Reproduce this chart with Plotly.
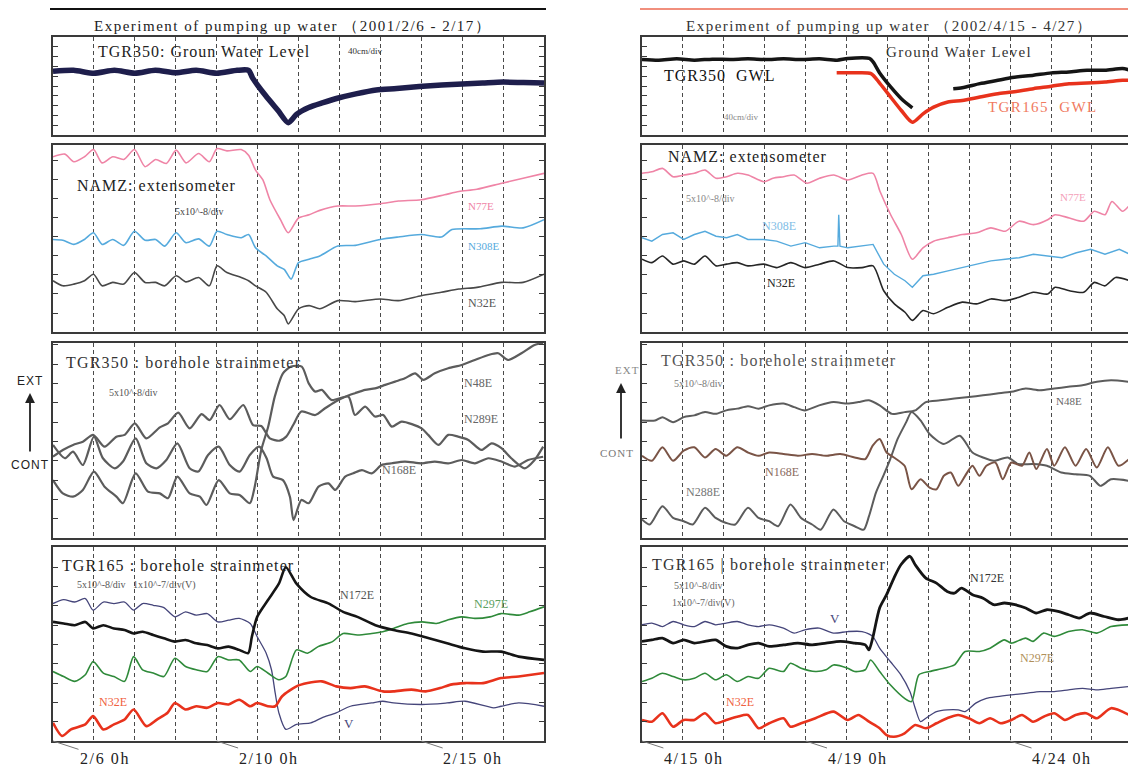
import plotly.graph_objects as go

# ---------------- DATA (time in days since start; values in chart divisions) ----------------
# Left column : 2001/2/6 0h .. ; Right column : 2002/4/15 0h ..
DAY_TICKS = list(range(1, 12))

# Left panel 1 : TGR350 ground water level
L_gwl_t = [0, 0.5, 1.0, 1.5, 2.0, 2.5, 3.0, 3.5, 4.0, 4.5, 4.78, 4.88, 5.2, 5.5, 5.75, 5.95, 6.25, 6.6,
           6.95, 7.4, 7.9, 8.4, 8.95, 9.5, 10.0, 10.5, 11.0, 11.5, 12.0]
L_gwl_v = [6.5, 6.6, 6.3, 6.6, 6.3, 6.6, 6.35, 6.6, 6.3, 6.6, 6.6, 5.8, 4.0, 2.5, 1.25, 2.1, 2.8, 3.3,
           3.75, 4.2, 4.6, 4.75, 4.95, 5.1, 5.2, 5.3, 5.4, 5.35, 5.3]

# Left panel 2 : NAMZ extensometer
L_n77_t = [0, .29, .51, .77, .99, 1.2, 1.46, 1.73, 1.99, 2.25, 2.51, 2.77, 3.01, 3.25, 3.56, 3.82, 4.01, 4.25,
           4.6, 4.78, 4.95, 5.13, 5.3, 5.56, 5.75, 6.0, 6.26, 6.52, 6.96, 7.39, 8.0, 8.44, 9.0, 9.57, 9.92,
           10.36, 10.97, 11.49, 12.0]
L_n77_v = [9.22, 9.36, 8.96, 9.22, 9.6, 8.9, 9.22, 9.08, 9.6, 8.7, 9.08, 8.87, 9.57, 8.9, 9.39, 8.96, 9.65, 9.53,
           9.6, 9.3, 8.52, 8.0, 6.96, 5.91, 5.22, 6.0, 6.17, 6.4, 6.63, 6.63, 6.75, 6.89, 6.96, 7.22, 7.39,
           7.51, 7.83, 8.09, 8.35]
L_n308_t = [0, .24, .51, .77, .99, 1.2, 1.46, 1.73, 1.99, 2.25, 2.51, 2.73, 3.01, 3.25, 3.56, 3.82, 4.01, 4.25,
            4.6, 4.78, 4.95, 5.21, 5.48, 5.65, 5.82, 6.0, 6.26, 6.52, 6.96, 7.39, 8.0, 8.44, 9.0, 9.49, 9.75,
            10.44, 10.97, 11.49, 12.0]
L_n308_v = [4.87, 4.83, 4.61, 4.87, 5.22, 4.61, 4.87, 4.56, 5.3, 4.83, 4.87, 4.52, 5.22, 4.7, 4.9, 4.52, 5.3, 5.13,
            4.96, 5.13, 4.43, 4.0, 3.48, 3.3, 2.78, 3.65, 3.83, 4.0, 4.52, 4.56, 4.87, 5.0, 5.13, 5.0, 5.39,
            5.43, 5.57, 5.48, 5.91]
L_n32x_t = [0, .24, .51, .77, .99, 1.2, 1.46, 1.73, 1.99, 2.25, 2.51, 2.73, 3.01, 3.25, 3.56, 3.82, 4.01, 4.25,
            4.6, 4.78, 4.95, 5.21, 5.48, 5.65, 5.75, 6.0, 6.26, 6.52, 6.96, 7.39, 8.0, 8.44, 9.0, 9.49, 9.92,
            10.36, 10.97, 11.49, 12.0]
L_n32x_v = [2.7, 2.43, 2.52, 2.7, 3.04, 2.43, 2.61, 2.52, 3.13, 2.61, 2.61, 2.43, 2.96, 2.64, 2.87, 2.43, 3.48, 3.13,
            2.87, 2.7, 2.43, 2.09, 1.22, 0.87, 0.43, 1.22, 1.39, 1.22, 1.65, 1.6, 1.74, 1.65, 1.91, 2.09, 2.26,
            2.35, 2.61, 2.61, 3.04]

# Left panel 3 : TGR350 borehole strainmeter
L_n48_t = [0, .24, .49, .73, .98, 1.26, 1.55, 1.75, 2.0, 2.28, 2.61, 2.81, 3.06, 3.34, 3.63, 3.83, 4.07, 4.32,
           4.65, 4.89, 5.09, 5.3, 5.54, 5.7, 5.87, 6.07, 6.41, 6.65, 6.9, 7.14, 7.38, 7.63, 7.87, 8.12, 8.36,
           8.6, 8.85, 9.05, 9.33, 9.66, 9.99, 10.31, 10.64, 10.88, 11.12, 11.45, 11.77, 11.98]
L_n48_v = [4.21, 4.56, 4.82, 4.99, 5.34, 4.73, 5.25, 5.34, 5.94, 5.16, 5.73, 5.94, 6.49, 5.68, 6.42, 6.11, 6.89, 6.15,
           6.89, 5.85, 5.8, 5.16, 5.04, 5.25, 5.85, 6.55, 6.37, 6.72, 7.06, 7.32, 7.5, 7.67, 7.75, 7.93, 8.1,
           8.27, 8.53, 8.19, 8.53, 8.79, 8.96, 9.22, 9.48, 9.57, 9.22, 9.57, 10.0, 10.09]
L_n168_t = [0, .29, .49, .73, 1.0, 1.22, 1.51, 1.71, 2.02, 2.28, 2.53, 2.77, 3.04, 3.34, 3.55, 3.79, 4.05, 4.32,
            4.56, 4.81, 5.04, 5.22, 5.38, 5.62, 5.79, 5.88, 6.07, 6.25, 6.49, 6.73, 6.9, 7.14, 7.34, 7.55, 7.79,
            8.03, 8.28, 8.6, 9.01, 9.33, 9.66, 9.99, 10.31, 10.64, 10.96, 11.29, 11.61, 11.98]
L_n168_v = [4.82, 4.13, 4.47, 3.78, 5.25, 4.13, 3.61, 3.96, 5.16, 3.87, 3.61, 4.04, 4.9, 3.61, 3.44, 4.3, 4.73, 3.78,
            3.44, 4.3, 4.73, 4.13, 3.18, 3.0, 2.14, 0.93, 1.97, 1.8, 2.66, 2.83, 2.49, 3.18, 3.35, 3.52, 3.35,
            3.78, 3.87, 3.96, 3.87, 3.96, 3.87, 4.04, 3.87, 4.13, 3.96, 3.7, 4.04, 4.21]
L_n289_t = [0, .24, .49, .73, 1.0, 1.26, 1.55, 1.71, 2.02, 2.32, 2.61, 2.81, 3.04, 3.34, 3.59, 3.75, 4.05, 4.32,
            4.56, 4.81, 4.93, 5.09, 5.26, 5.42, 5.62, 5.82, 6.08, 6.25, 6.41, 6.57, 6.81, 7.22, 7.38, 7.63, 7.87,
            8.07, 8.28, 8.52, 9.01, 9.17, 9.42, 9.66, 9.9, 10.15, 10.47, 10.72, 10.96, 11.2, 11.53, 11.77, 11.98]
L_n289_v = [3.0, 2.31, 2.14, 2.49, 3.44, 2.66, 2.14, 1.8, 3.35, 2.4, 2.31, 2.06, 3.18, 2.31, 2.14, 1.71, 3.0, 2.31,
            2.23, 1.8, 2.66, 4.56, 5.77, 7.32, 8.53, 8.88, 8.88, 8.01, 7.58, 7.67, 7.15, 7.32, 6.37, 6.8, 6.29,
            6.37, 5.77, 6.03, 5.68, 5.34, 4.82, 5.34, 5.25, 5.08, 4.56, 4.9, 4.65, 4.13, 3.61, 4.04, 4.73]

# Left panel 4 : TGR165 borehole strainmeter
L_v_t = [0, .26, .53, .79, .98, 1.23, 1.49, 1.75, 1.97, 2.19, 2.45, 2.71, 2.98, 3.24, 3.5, 3.77, 4.03, 4.29, 4.55,
         4.82, 4.99, 5.21, 5.34, 5.43, 5.52, 5.69, 5.95, 6.3, 6.57, 6.92, 7.27, 7.79, 8.06, 8.32, 9.02, 9.63,
         10.07, 10.77, 10.95, 11.38, 12.0]
L_v_v = [7.12, 7.32, 7.2, 7.38, 6.78, 7.2, 7.12, 7.2, 6.78, 7.12, 7.03, 6.91, 6.43, 6.69, 6.52, 6.6, 6.17, 6.26, 6.35,
         6.09, 5.4, 4.55, 3.69, 2.49, 1.46, 0.6, 0.86, 0.94, 1.2, 1.46, 1.8, 1.97, 2.06, 1.97, 1.89, 1.97,
         2.06, 1.72, 1.8, 1.97, 1.8]
L_n172_t = [0, .26, .53, .79, .98, 1.23, 1.49, 1.75, 1.97, 2.19, 2.45, 2.71, 2.98, 3.24, 3.5, 3.77, 4.03, 4.29,
            4.55, 4.77, 4.86, 4.99, 5.25, 5.52, 5.69, 5.95, 6.3, 6.74, 7.09, 7.44, 7.88, 8.32, 8.76, 9.19, 9.63,
            10.07, 10.51, 10.95, 11.38, 12.0]
L_n172_v = [6.17, 6.09, 6.0, 6.17, 5.83, 6.0, 5.83, 5.75, 5.57, 5.66, 5.49, 5.32, 5.15, 5.23, 5.06, 4.97, 4.8, 4.89,
            4.72, 4.55, 5.4, 6.43, 7.29, 8.15, 9.0, 8.15, 7.46, 7.12, 6.69, 6.43, 6.0, 5.75, 5.57, 5.32, 5.06,
            4.8, 4.63, 4.63, 4.37, 4.2]
L_n297_t = [0, .26, .53, .79, .98, 1.23, 1.49, 1.75, 1.97, 2.19, 2.45, 2.71, 2.98, 3.24, 3.5, 3.77, 4.03, 4.29,
            4.55, 4.82, 4.99, 5.25, 5.52, 5.69, 5.95, 6.22, 6.48, 6.83, 7.09, 7.44, 7.79, 8.06, 8.32, 8.67, 9.02,
            9.37, 9.63, 9.98, 10.33, 10.68, 10.95, 11.38, 11.65, 12.0]
L_n297_v = [3.6, 3.34, 3.09, 3.43, 4.12, 3.52, 3.34, 3.09, 4.37, 3.69, 3.52, 3.34, 4.29, 3.86, 3.69, 3.6, 4.37, 4.2,
            4.2, 3.6, 3.86, 3.52, 3.17, 3.34, 4.72, 4.55, 4.89, 5.15, 5.57, 5.49, 5.57, 5.66, 5.83, 6.09, 6.17,
            6.09, 6.26, 6.43, 6.35, 6.43, 6.6, 6.52, 6.69, 6.95]
L_n32_t = [0, .22, .44, .79, .98, 1.23, 1.49, 1.75, 1.97, 2.28, 2.54, 2.8, 2.98, 3.24, 3.5, 3.77, 4.03, 4.29, 4.55,
           4.82, 4.99, 5.25, 5.43, 5.6, 5.95, 6.22, 6.57, 6.92, 7.27, 7.62, 8.06, 8.32, 8.76, 9.11, 9.46, 9.72,
           10.07, 10.51, 10.95, 11.38, 12.0]
L_n32_v = [.94, .26, .6, .86, 1.29, .6, .86, 1.11, 1.63, .77, 1.11, 1.46, 1.97, 1.63, 1.8, 1.72, 1.97, 1.89, 2.14,
           1.8, 1.97, 1.8, 1.8, 2.32, 2.83, 3.0, 3.09, 2.83, 2.74, 2.83, 2.57, 2.57, 2.66, 2.57, 2.74, 2.92,
           3.0, 3.0, 3.26, 3.34, 3.52]

# Right panel 1 : ground water levels
R_gwl350_t = [0, .41, .85, 1.28, 1.72, 2.16, 2.59, 3.03, 3.46, 3.9, 4.34, 4.77, 5.03, 5.56, 5.65, 5.82, 6.08,
              6.34, 6.61, None, 7.61, 7.83, 8.26, 8.7, 9.05, 9.57, 10.01, 10.44, 10.88, 11.32, 11.75, 11.93]
R_gwl350_v = [7.71, 7.64, 7.77, 7.64, 7.74, 7.71, 7.77, 7.71, 7.77, 7.71, 7.77, 7.64, 7.81, 7.81, 7.47, 6.27, 4.9,
              3.7, 2.77, None, 4.73, 4.83, 5.24, 5.58, 5.86, 6.1, 6.34, 6.44, 6.61, 6.61, 6.78, 6.61]
R_gwl165_t = [4.76, 5.12, 5.6, 5.82, 6.08, 6.34, 6.61, 6.87, 7.13, 7.48, 7.83, 8.26, 8.7, 9.05, 9.57, 10.01,
              10.44, 10.88, 11.32, 11.75, 11.93]
R_gwl165_v = [6.34, 6.34, 6.27, 5.24, 3.87, 2.5, 1.3, 2.16, 2.84, 3.36, 3.53, 3.87, 4.21, 4.38, 4.73, 4.97,
              5.24, 5.31, 5.41, 5.58, 5.58]

# Right panel 2 : NAMZ extensometer
R_n77_t = [0, .24, .5, .76, 1.02, 1.28, 1.54, 1.81, 2.07, 2.33, 2.59, 2.98, 3.2, 3.46, 3.72, 4.03, 4.34, 4.69,
           5.03, 5.38, 5.65, 5.82, 6.08, 6.34, 6.61, 6.87, 7.13, 7.48, 7.83, 8.18, 8.53, 8.88, 9.22, 9.57, 9.92,
           10.1, 10.45, 10.8, 11.06, 11.32, 11.49, 11.75, 11.93]
R_n77_v = [8.35, 8.43, 8.61, 8.17, 8.26, 8.35, 8.52, 8.09, 8.17, 8.35, 8.26, 7.91, 8.09, 8.17, 8.26, 7.83, 8.09, 8.26,
           8.0, 8.26, 8.35, 7.39, 6.17, 5.13, 3.83, 4.43, 4.78, 4.96, 5.13, 5.22, 5.48, 5.3, 5.83, 5.65, 5.91,
           6.17, 6.0, 5.83, 6.35, 6.17, 6.87, 6.35, 6.7]
R_n308_t = [0, .24, .5, .76, 1.02, 1.28, 1.54, 1.81, 2.07, 2.33, 2.59, 2.98, 3.29, 3.64, 3.99, 4.34, 4.69, 4.79,
            4.81, 4.84, 5.03, 5.38, 5.65, 5.91, 6.17, 6.43, 6.61, 6.87, 7.13, 7.48, 7.83, 8.18, 8.53, 8.88, 9.22,
            9.57, 9.92, 10.27, 10.62, 10.97, 11.32, 11.67, 11.93]
R_n308_v = [4.96, 4.78, 5.13, 5.22, 4.87, 5.13, 5.3, 5.04, 4.96, 5.13, 4.87, 4.87, 4.78, 4.52, 4.7, 4.43, 4.52, 4.52,
            6.17, 4.52, 4.43, 4.52, 4.61, 3.57, 3.04, 2.7, 2.35, 2.96, 3.04, 3.22, 3.39, 3.57, 3.74, 3.83, 3.91,
            4.09, 4.0, 3.91, 4.17, 4.35, 4.09, 4.35, 4.09]
R_n32x_t = [0, .24, .5, .76, 1.02, 1.28, 1.54, 1.81, 2.07, 2.33, 2.59, 2.98, 3.29, 3.64, 3.99, 4.34, 4.69, 5.03,
            5.38, 5.65, 5.91, 6.17, 6.43, 6.61, 6.87, 7.13, 7.48, 7.83, 8.18, 8.53, 8.88, 9.22, 9.57, 9.92, 10.1,
            10.45, 10.8, 11.06, 11.32, 11.58, 11.93]
R_n32x_v = [3.83, 3.65, 4.0, 3.57, 3.74, 3.57, 4.0, 3.48, 3.57, 3.65, 3.48, 3.57, 3.39, 3.65, 3.39, 3.57, 3.74, 3.39,
            3.39, 3.48, 2.17, 1.48, 1.04, 0.61, 1.13, 0.96, 1.3, 1.57, 1.48, 1.74, 1.65, 1.83, 2.09, 2.0, 2.35,
            2.17, 2.09, 2.61, 2.43, 2.87, 2.7]

# Right panel 3 : TGR350 borehole strainmeter
R_n48_t = [0, .32, .5, .76, 1.02, 1.28, 1.54, 1.8, 2.06, 2.33, 2.59, 2.85, 3.11, 3.46, 3.72, 3.98, 4.33, 4.68,
           5.03, 5.29, 5.55, 5.81, 6.11, 6.42, 6.68, 6.94, 7.29, 7.64, 7.99, 8.34, 8.68, 9.03, 9.38, 9.73, 10.08,
           10.42, 10.77, 11.12, 11.47, 11.91]
R_n48_v = [6.09, 6.09, 6.26, 6.0, 6.26, 6.35, 6.52, 6.43, 6.61, 6.7, 6.83, 6.7, 6.87, 6.96, 6.78, 6.61, 6.87, 7.04,
           6.96, 7.04, 7.13, 6.87, 6.43, 6.52, 6.61, 7.04, 7.13, 7.22, 7.3, 7.39, 7.48, 7.57, 7.74, 7.65, 7.74,
           7.83, 7.91, 8.09, 8.17, 8.09]
R_n168_t = [0, .24, .5, .76, 1.02, 1.28, 1.54, 1.8, 2.06, 2.33, 2.59, 2.85, 3.11, 3.46, 3.81, 4.16, 4.5, 4.85,
            5.2, 5.46, 5.64, 5.81, 5.98, 6.16, 6.42, 6.59, 6.81, 7.03, 7.2, 7.38, 7.55, 7.73, 7.9, 8.08, 8.25,
            8.42, 8.64, 8.82, 9.03, 9.29, 9.47, 9.64, 9.9, 10.08, 10.34, 10.6, 10.86, 11.12, 11.39, 11.65, 11.91]
R_n168_v = [4.26, 4.0, 4.7, 4.0, 4.52, 4.7, 4.17, 4.61, 4.26, 4.7, 4.43, 4.26, 4.43, 4.35, 4.26, 4.35, 4.26, 4.35,
            4.17, 4.09, 4.78, 5.13, 4.43, 4.17, 3.74, 2.52, 3.04, 2.61, 2.52, 3.22, 3.39, 2.7, 3.22, 3.74, 3.22,
            3.74, 3.91, 3.04, 3.91, 3.74, 4.43, 3.57, 4.61, 3.74, 4.7, 3.74, 4.61, 3.65, 4.7, 3.74, 4.09]
R_n288_t = [0, .19, .5, .76, 1.02, 1.24, 1.54, 1.8, 2.06, 2.28, 2.59, 2.85, 3.11, 3.33, 3.63, 3.89, 4.16, 4.37,
            4.68, 4.94, 5.2, 5.42, 5.55, 5.72, 5.9, 6.07, 6.25, 6.46, 6.59, 6.81, 7.03, 7.38, 7.77, 8.08, 8.34,
            8.6, 8.94, 9.2, 9.56, 9.9, 10.25, 10.6, 10.95, 11.21, 11.47, 11.91]
R_n288_v = [.96, .7, 1.65, 1.04, .87, .7, 1.57, 1.04, .78, .7, 1.57, 1.04, .87, .61, 1.74, 1.04, .7, .43,
            1.48, .87, .61, .43, 1.13, 2.35, 3.22, 4.09, 5.13, 6.0, 6.52, 6.09, 5.39, 4.87, 5.3, 4.43, 4.17,
            4.0, 4.17, 3.83, 3.83, 3.74, 3.39, 3.3, 3.22, 2.7, 3.04, 2.96]

# Right panel 4 : TGR165 borehole strainmeter
R_n172_t = [0, .24, .5, .76, 1.02, 1.28, 1.54, 1.8, 2.06, 2.33, 2.59, 2.85, 3.11, 3.46, 3.81, 4.16, 4.5, 4.85,
            5.2, 5.46, 5.55, 5.64, 5.81, 5.98, 6.16, 6.33, 6.55, 6.68, 6.94, 7.2, 7.46, 7.64, 7.81, 8.08, 8.34,
            8.6, 8.86, 9.12, 9.38, 9.64, 9.9, 10.17, 10.43, 10.69, 10.95, 11.3, 11.65, 11.91]
R_n172_v = [5.16, 5.24, 5.33, 5.07, 5.24, 5.07, 5.16, 5.24, 4.9, 4.81, 4.98, 5.07, 4.9, 4.98, 5.07, 4.98, 5.07, 5.16,
            5.07, 4.98, 4.72, 5.33, 6.89, 7.58, 8.44, 9.13, 9.57, 9.13, 8.44, 8.18, 7.75, 7.66, 7.92, 7.58, 7.4,
            7.06, 7.15, 7.06, 6.89, 6.63, 6.8, 6.71, 6.54, 6.37, 6.63, 6.45, 6.28, 6.37]
R_v_t = [0, .24, .5, .76, 1.02, 1.28, 1.54, 1.8, 2.06, 2.33, 2.59, 2.85, 3.11, 3.46, 3.72, 3.98, 4.33, 4.68, 5.03,
         5.38, 5.64, 5.81, 6.07, 6.33, 6.55, 6.68, 6.81, 6.94, 7.2, 7.46, 7.73, 7.9, 8.16, 8.42, 8.68, 9.03,
         9.38, 9.73, 10.08, 10.43, 10.77, 11.12, 11.47, 11.91]
R_v_v = [6.02, 6.11, 5.93, 6.19, 6.02, 5.93, 6.19, 6.02, 6.11, 6.19, 6.02, 5.93, 6.02, 5.85, 5.59, 5.76, 5.85, 5.59,
         5.67, 5.67, 5.42, 4.81, 4.12, 3.43, 2.56, 1.7, 1.0, 1.18, 1.52, 1.61, 1.61, 1.52, 1.96, 2.21, 2.3,
         2.39, 2.47, 2.56, 2.56, 2.65, 2.73, 2.65, 2.73, 2.82]
R_n297_t = [0, .24, .5, .76, 1.02, 1.28, 1.54, 1.8, 2.06, 2.33, 2.59, 2.85, 3.11, 3.46, 3.63, 3.89, 4.24, 4.5,
            4.68, 5.03, 5.2, 5.46, 5.59, 5.81, 6.07, 6.42, 6.59, 6.77, 7.03, 7.38, 7.64, 7.9, 8.25, 8.51, 8.86,
            9.03, 9.38, 9.56, 9.82, 10.08, 10.43, 10.77, 11.12, 11.47, 11.91]
R_n297_v = [3.08, 3.25, 3.51, 3.34, 3.17, 3.25, 3.51, 3.17, 3.43, 3.08, 3.34, 3.25, 3.77, 3.6, 4.03, 3.77, 3.6, 3.69,
            3.94, 3.77, 3.6, 3.69, 4.2, 3.6, 2.91, 2.21, 2.04, 3.43, 3.6, 3.77, 3.94, 4.64, 4.64, 4.81, 5.24,
            5.07, 5.33, 5.16, 5.59, 5.42, 5.67, 5.76, 5.59, 5.93, 6.02]
R_n32_t = [0, .24, .5, .76, 1.02, 1.28, 1.54, 1.8, 2.06, 2.33, 2.59, 2.85, 3.11, 3.46, 3.63, 3.89, 4.24, 4.68,
           5.03, 5.29, 5.55, 5.81, 5.98, 6.16, 6.42, 6.68, 6.94, 7.2, 7.46, 7.73, 7.99, 8.25, 8.51, 8.77, 9.03,
           9.29, 9.56, 9.82, 10.08, 10.34, 10.6, 10.86, 11.12, 11.47, 11.91]
R_n32_v = [1.09, 1.0, 1.44, 0.74, 1.09, 1.09, 1.44, 0.92, 1.09, 1.26, 1.35, 0.66, 0.92, 1.18, 0.74, 0.92, 1.18, 1.52,
           1.09, 1.35, 1.0, 0.66, 0.31, 0.22, 0.4, 0.83, 0.66, 0.92, 1.18, 1.35, 1.18, 0.92, 1.18, 0.92, 1.09,
           1.35, 1.0, 1.26, 1.44, 1.09, 1.35, 1.44, 1.18, 1.7, 1.35]

# Date labels (tick day, text)
L_DATE_DAYS = [0, 4, 9]
L_DATE_TEXT = ["2/6 0h", "2/10 0h", "2/15 0h"]
R_DATE_DAYS = [0, 4, 9]
R_DATE_TEXT = ["4/15 0h", "4/19 0h", "4/24 0h"]

# ---------------- LAYOUT GEOMETRY ----------------
W, H = 1128, 769
PANEL_TOP = [37, 145, 343, 547]
PANEL_BOT = [135, 332, 538, 741]
PANEL_YMAX = [10.0, 9.84, 10.1, 10.05]
LEFT_X = (53, 544)
RIGHT_X = (642, 1128)
LEFT_RANGE = [0, 12]
RIGHT_RANGE = [0, (RIGHT_X[1] - RIGHT_X[0]) / 40.9]

PINK = "#ef84a6"
BLUE = "#55aadd"
GRAY = "#5c5c5c"
NAVY = "#1e1e4c"
VIOL = "#45457a"
GREEN = "#2f8a3a"
RED = "#e8321c"
BROWN = "#7a5446"
SERIF = "Liberation Serif"

fig = go.Figure()


def ax_id(col, panel):
    return panel + 1 + (4 if col == 1 else 0)


def add_line(col, panel, t, v, color, width, shape="spline"):
    k = ax_id(col, panel)
    fig.add_trace(go.Scatter(
        x=t, y=v, mode="lines",
        line=dict(color=color, width=width, shape=shape, smoothing=0.7),
        xaxis="x" if k == 1 else f"x{k}", yaxis="y" if k == 1 else f"y{k}",
        showlegend=False, hoverinfo="skip", connectgaps=False))


# left column
add_line(0, 0, L_gwl_t, L_gwl_v, NAVY, 5.5)
add_line(0, 1, L_n77_t, L_n77_v, PINK, 1.6)
add_line(0, 1, L_n308_t, L_n308_v, BLUE, 1.6)
add_line(0, 1, L_n32x_t, L_n32x_v, "#484848", 1.6)
add_line(0, 2, L_n48_t, L_n48_v, GRAY, 2.2)
add_line(0, 2, L_n168_t, L_n168_v, GRAY, 2.2)
add_line(0, 2, L_n289_t, L_n289_v, GRAY, 2.2)
add_line(0, 3, L_v_t, L_v_v, VIOL, 1.3)
add_line(0, 3, L_n297_t, L_n297_v, GREEN, 1.6)
add_line(0, 3, L_n32_t, L_n32_v, RED, 2.6)
add_line(0, 3, L_n172_t, L_n172_v, "#151515", 2.6)
# right column
add_line(1, 0, R_gwl350_t, R_gwl350_v, "#151515", 3.5)
add_line(1, 0, R_gwl165_t, R_gwl165_v, RED, 3.5)
add_line(1, 1, R_n77_t, R_n77_v, PINK, 1.6)
add_line(1, 1, R_n308_t, R_n308_v, BLUE, 1.4, shape="linear")
add_line(1, 1, R_n32x_t, R_n32x_v, "#262626", 1.6)
add_line(1, 2, R_n48_t, R_n48_v, GRAY, 2.0)
add_line(1, 2, R_n288_t, R_n288_v, GRAY, 2.0)
add_line(1, 2, R_n168_t, R_n168_v, BROWN, 2.0)
add_line(1, 3, R_v_t, R_v_v, VIOL, 1.3)
add_line(1, 3, R_n297_t, R_n297_v, GREEN, 1.6)
add_line(1, 3, R_n32_t, R_n32_v, RED, 2.6)
add_line(1, 3, R_n172_t, R_n172_v, "#151515", 2.8)

layout = dict(width=W, height=H, margin=dict(l=0, r=0, t=0, b=0),
              paper_bgcolor="white", plot_bgcolor="white", showlegend=False)

for col in (0, 1):
    xs = LEFT_X if col == 0 else RIGHT_X
    for p in range(4):
        k = ax_id(col, p)
        xk = "xaxis" if k == 1 else f"xaxis{k}"
        yk = "yaxis" if k == 1 else f"yaxis{k}"
        layout[xk] = dict(
            domain=[xs[0] / W, xs[1] / W], anchor="y" if k == 1 else f"y{k}",
            range=LEFT_RANGE if col == 0 else RIGHT_RANGE,
            tickvals=DAY_TICKS, ticks="", showticklabels=False,
            showgrid=True, gridcolor="#4a4a4a", gridwidth=1, griddash="4px,3px",
            showline=True, linecolor="#3a3a3a", linewidth=1.6, mirror=True,
            zeroline=False, fixedrange=True)
        layout[yk] = dict(
            domain=[1 - PANEL_BOT[p] / H, 1 - PANEL_TOP[p] / H], anchor="x" if k == 1 else f"x{k}",
            range=[0, PANEL_YMAX[p]], tick0=0, dtick=1, ticks="inside", ticklen=5,
            tickcolor="#3a3a3a", tickwidth=1, showticklabels=False, showgrid=False,
            showline=True, linecolor="#3a3a3a", linewidth=1.6,
            mirror="ticks" if col == 0 else False, zeroline=False, fixedrange=True)

fig.update_layout(**layout)

# top rules
fig.add_shape(type="line", xref="paper", yref="paper", x0=50 / W, x1=546 / W, y0=1 - 9 / H, y1=1 - 9 / H,
              line=dict(color="#111111", width=2))
fig.add_shape(type="line", xref="paper", yref="paper", x0=640 / W, x1=1.0, y0=1 - 9 / H, y1=1 - 9 / H,
              line=dict(color="#ec6a52", width=1.5))


def spaced(s, ls):
    if ls <= 0:
        return s
    return f'<span style="letter-spacing:{ls}px">{s}</span>'


def txt(s, x, y, size=15, color="#222222", family=SERIF, anchor="left", ls=0.0):
    fig.add_annotation(text=spaced(s, ls), x=x / W, y=1 - y / H, xref="paper", yref="paper", showarrow=False,
                       xanchor=anchor, yanchor="middle", font=dict(size=size, color=color, family=family))


# titles
txt("Experiment of pumping up water （2001/2/6 - 2/17）", 92, 26, 15, ls=1.5)
txt("Experiment of pumping up water （2002/4/15 - 4/27）", 684, 26, 15, "#333333", ls=1.5)

# left labels
txt("TGR350: Groun Water Level", 96, 52, 16, ls=1.0)
txt("40cm/div", 346, 51, 9, "#333333")
txt("NAMZ: extensometer", 75, 185, 16, ls=1.0)
txt("5x10^-8/div", 173, 211, 10, "#444444")
txt("N77E", 466, 206, 11, PINK)
txt("N308E", 466, 246, 11, BLUE)
txt("N32E", 466, 303, 12, "#555555")
txt("TGR350 : borehole strainmeter", 64, 362, 16, "#333333", ls=1.2)
txt("5x10^-8/div", 107, 392, 10, "#555555")
txt("N48E", 462, 383, 12, "#666666")
txt("N289E", 462, 419, 12, "#666666")
txt("N168E", 380, 470, 12, "#666666")
txt("TGR165 : borehole strainmeter", 60, 565, 16, "#222222", ls=1.1)
txt("5x10^-8/div   1x10^-7/div(V)", 75, 585, 10, "#555555")
txt("N172E", 338, 595, 12, "#555555")
txt("N297E", 472, 604, 12, "#5aa060")
txt("N32E", 97, 702, 12, "#f06040")
txt("V", 342, 723, 13, VIOL)
txt("EXT", 30, 381, 12, "#222222", "Liberation Sans", "center", ls=1.0)
txt("CONT", 30, 465, 12, "#222222", "Liberation Sans", "center", ls=1.0)

# right labels
txt("Ground Water Level", 884, 52, 15, "#333333", ls=1.3)
txt("TGR350  GWL", 662, 75, 16, "#111111", ls=1.0)
txt("40cm/div", 722, 117, 9, "#888888")
txt("TGR165  GWL", 986, 107, 15, "#f07a60", ls=1.4)
txt("NAMZ: extensometer", 666, 157, 16, "#222222", ls=1.0)
txt("5x10^-8/div", 684, 198, 10, "#888888")
txt("N308E", 760, 226, 12, "#7fbde6")
txt("N32E", 765, 283, 12, "#222222")
txt("N77E", 1058, 197, 11, "#f4a0b8")
txt("TGR350 : borehole strainmeter", 659, 360, 16, "#555555", ls=1.2)
txt("5x10^-8/div", 672, 383, 10, "#777777")
txt("N48E", 1054, 401, 11, "#666666")
txt("N168E", 763, 472, 12, "#8a6a60")
txt("N288E", 684, 492, 12, "#777777")
txt("TGR165 | borehole strainmeter", 650, 565, 16, "#333333", ls=1.2)
txt("5x10^-8/div", 672, 585, 10, "#666666")
txt("1x10^-7/div(V)", 670, 603, 10, "#666666")
txt("V", 828, 618, 13, VIOL)
txt("N172E", 968, 578, 12, "#333333")
txt("N297E", 1018, 658, 12, "#b0905a")
txt("N32E", 724, 702, 12, "#f06040")
txt("EXT", 627, 370, 11, "#888888", SERIF, "center", ls=1.0)
txt("CONT", 617, 453, 11, "#777777", SERIF, "center", ls=1.0)

# EXT arrows
for xa, ytip, ylen in ((30, 393, 60), (621, 383, 57)):
    fig.add_annotation(x=xa / W, y=1 - ytip / H, xref="paper", yref="paper", text="", showarrow=True,
                       ax=0, ay=ylen, arrowhead=2, arrowsize=1.1, arrowwidth=1.8, arrowcolor="#222222")

# date labels with leader lines
for col, (labels, days) in enumerate(((L_DATE_TEXT, L_DATE_DAYS), (R_DATE_TEXT, R_DATE_DAYS))):
    for lab, d in zip(labels, days):
        k = ax_id(col, 3)
        fig.add_annotation(text=spaced(lab, 1.6), x=d, y=0, xref="x" if k == 1 else f"x{k}",
                           yref="y" if k == 1 else f"y{k}",
                           showarrow=True, arrowhead=0, arrowwidth=1, arrowcolor="#777777",
                           ax=52, ay=17, xanchor="center", yanchor="middle",
                           font=dict(size=16, color="#222222", family=SERIF))

fig.write_html("out.html")
